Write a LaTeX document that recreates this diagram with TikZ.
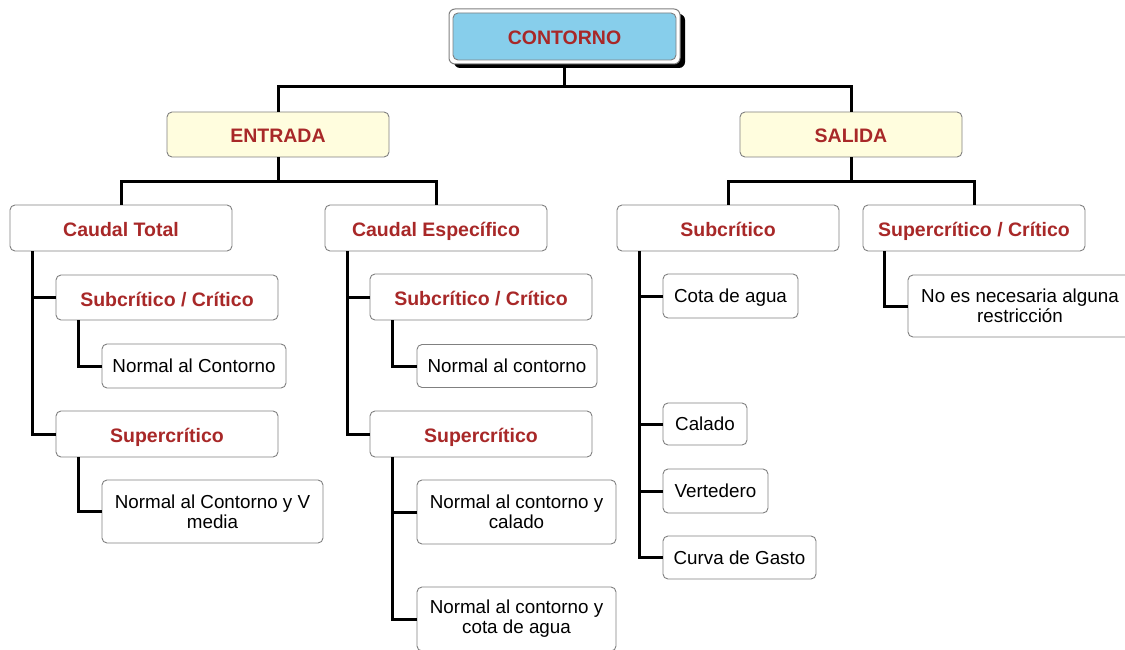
\documentclass[tikz,border=0pt]{standalone}
\usepackage{fontspec}
\setmainfont{Liberation Sans}
\definecolor{lblred}{RGB}{168,40,40}
\definecolor{rootblue}{RGB}{135,206,235}
\definecolor{paleyel}{RGB}{255,253,222}
\definecolor{boxgray}{RGB}{128,128,128}
\begin{document}
\begin{tikzpicture}[x=1pt,y=-1pt,
  box/.style={draw=boxgray, line width=0.9pt, fill=white, rounded corners=5pt, align=center, inner sep=2pt,
    font=\fontsize{18.8}{20}\selectfont},
  head/.style={box, font=\fontsize{19.5}{22}\selectfont\bfseries, text=lblred, text height=20pt, text depth=3pt},
  leaf/.style={box, text height=17.5pt, text depth=4pt},
  leaftwo/.style={box},
  conn/.style={line width=3pt, draw=black}]
\useasboundingbox (0,0) rectangle (1125,650);
% root frame and shadow
\fill[black, rounded corners=6pt] (454,14) rectangle (685,68);
\draw[boxgray, fill=white, line width=1pt, rounded corners=6pt] (449,9) rectangle (680,64);
\node[head, fill=rootblue, minimum width=223, minimum height=47] (root) at (564.5,36.5) {CONTORNO};
% level 1
\node[head, fill=paleyel, minimum width=222, minimum height=45] (entrada) at (278,134.5) {ENTRADA};
\node[head, fill=paleyel, minimum width=222, minimum height=45] (salida) at (851,134.5) {SALIDA};
% level 2
\node[head, minimum width=222, minimum height=46] (ct) at (121,228) {Caudal Total};
\node[head, minimum width=222, minimum height=46] (ce) at (436,228) {Caudal Específico};
\node[head, minimum width=222, minimum height=46] (ss) at (728,228) {Subcrítico};
\node[head, minimum width=222, minimum height=46] (sc) at (974,228) {Supercrítico / Crítico};
% Caudal Total branch
\node[head, minimum width=222, minimum height=45] (ctsub) at (167,297.5) {Subcrítico / Crítico};
\node[leaf, minimum width=184, minimum height=44] (ctn) at (194,366) {Normal al Contorno};
\node[head, minimum width=222, minimum height=46] (ctsup) at (167,434) {Supercrítico};
\node[leaftwo, minimum width=221, minimum height=63] (ctsupn) at (212.5,511.5) {Normal al Contorno y V\\media};
% Caudal Especifico branch
\node[head, minimum width=222, minimum height=46] (cesub) at (481,297) {Subcrítico / Crítico};
\node[leaf, minimum width=180, minimum height=43] (cen) at (507,366) {Normal al contorno};
\node[head, minimum width=222, minimum height=46] (cesup) at (481,434) {Supercrítico};
\node[leaftwo, minimum width=199, minimum height=64] (cesupa) at (516.5,512) {Normal al contorno y\\calado};
\node[leaftwo, minimum width=199, minimum height=64] (cesupb) at (516.5,619) {Normal al contorno y\\cota de agua};
% Salida subcritico branch
\node[leaf, minimum width=135, minimum height=44] (cota) at (730.5,296) {Cota de agua};
\node[leaf, minimum width=84, minimum height=42] (calado) at (705,424) {Calado};
\node[leaf, minimum width=105, minimum height=44] (vert) at (715.5,491) {Vertedero};
\node[leaf, minimum width=153, minimum height=43] (curva) at (739.5,557.5) {Curva de Gasto};
% Salida supercritico branch
\node[leaftwo, minimum width=224, minimum height=62] (scn) at (1020,306) {No es necesaria alguna\\restricción};
% junctions
\coordinate (j0) at (564.5,87);
\coordinate (j1) at (278,182);
\coordinate (j2) at (851,182);
% connectors
\draw[conn] (root.south) ++(0,8) -- (j0);
\draw[conn] (entrada.north) |- (j0) -| (salida.north);
\draw[conn] (entrada.south) -- (j1);
\draw[conn] (ct.north) |- (j1) -| (ce.north);
\draw[conn] (salida.south) -- (j2);
\draw[conn] (ss.north) |- (j2) -| (sc.north);
\draw[conn] ([xshift=23pt]ct.south west) |- (ctsup.west);
\draw[conn] ([xshift=23pt]ct.south west) |- (ctsub.west);
\draw[conn] ([xshift=23pt]ctsub.south west) |- (ctn.west);
\draw[conn] ([xshift=23pt]ctsup.south west) |- (ctsupn.west);
\draw[conn] ([xshift=23pt]ce.south west) |- (cesup.west);
\draw[conn] ([xshift=23pt]ce.south west) |- (cesub.west);
\draw[conn] ([xshift=23pt]cesub.south west) |- (cen.west);
\draw[conn] ([xshift=23pt]cesup.south west) |- (cesupb.west);
\draw[conn] ([xshift=23pt]cesup.south west) |- (cesupa.west);
\draw[conn] ([xshift=23pt]ss.south west) |- (curva.west);
\draw[conn] ([xshift=23pt]ss.south west) |- (vert.west);
\draw[conn] ([xshift=23pt]ss.south west) |- (calado.west);
\draw[conn] ([xshift=23pt]ss.south west) |- (cota.west);
\draw[conn] ([xshift=22pt]sc.south west) |- (scn.west);
\end{tikzpicture}
\end{document}
